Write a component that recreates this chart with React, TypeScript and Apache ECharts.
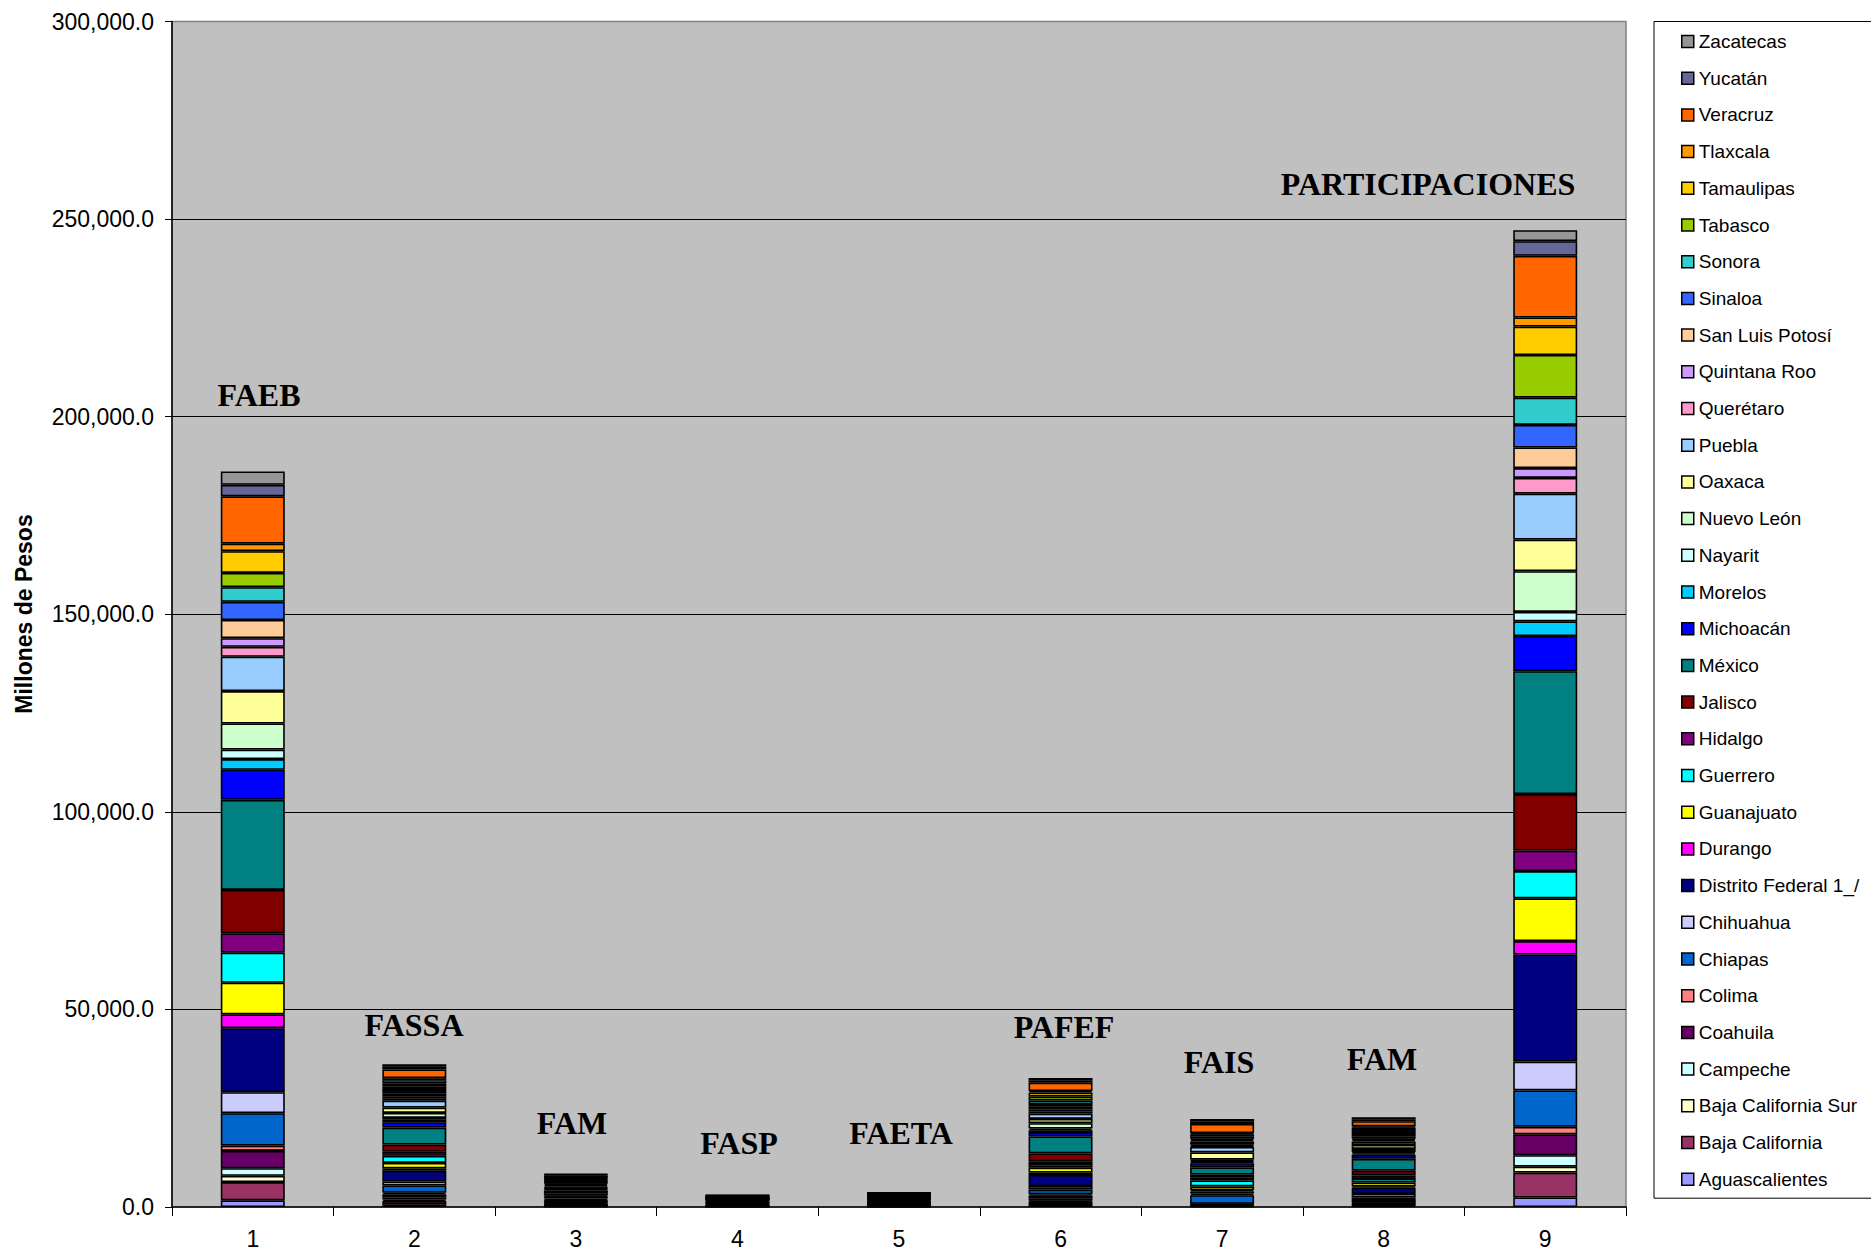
import React, { useEffect, useRef } from "react";
import * as echarts from "echarts";

// Categories (x axis)
const categories = ["1", "2", "3", "4", "5", "6", "7", "8", "9"];
const fundLabels = ["FAEB", "FASSA", "FAM", "FASP", "FAETA", "PAFEF", "FAIS", "FAM", "PARTICIPACIONES"];

// States in stacking order (bottom -> top)
const states = [
  "Aguascalientes", "Baja California", "Baja California Sur", "Campeche", "Coahuila", "Colima",
  "Chiapas", "Chihuahua", "Distrito Federal 1_/", "Durango", "Guanajuato", "Guerrero", "Hidalgo",
  "Jalisco", "México", "Michoacán", "Morelos", "Nayarit", "Nuevo León", "Oaxaca", "Puebla",
  "Querétaro", "Quintana Roo", "San Luis Potosí", "Sinaloa", "Sonora", "Tabasco", "Tamaulipas",
  "Tlaxcala", "Veracruz", "Yucatán", "Zacatecas",
];

const stateColors = [
  "#9999FF", "#993366", "#FFFFCC", "#CCFFFF", "#660066", "#FF8080",
  "#0066CC", "#CCCCFF", "#000080", "#FF00FF", "#FFFF00", "#00FFFF", "#800080",
  "#800000", "#008080", "#0000FF", "#00CCFF", "#CCFFFF", "#CCFFCC", "#FFFF99", "#99CCFF",
  "#FF99CC", "#CC99FF", "#FFCC99", "#3366FF", "#33CCCC", "#99CC00", "#FFCC00",
  "#FF9900", "#FF6600", "#666699", "#969696",
];

// Values per fund, millions of pesos, in the same state order
const FAEB = [1700, 4600, 1600, 1900, 4400, 1350, 8200, 5300, 16200, 3500, 8000, 7600, 4900, 11000, 22800, 7600, 2700, 2400, 6600, 8200, 8700, 2500, 2200, 4600, 4600, 3700, 3600, 5500, 1900, 12000, 2900, 3400];
const FASSA = [600, 900, 400, 500, 800, 400, 1850, 1000, 2700, 600, 1400, 1800, 1000, 1850, 4300, 1350, 600, 500, 1250, 1350, 1750, 600, 500, 800, 800, 800, 800, 900, 500, 2200, 700, 600];
const FAM_A = [100, 200, 50, 100, 150, 50, 300, 200, 450, 150, 400, 450, 300, 600, 750, 350, 150, 150, 350, 350, 400, 150, 150, 250, 200, 200, 200, 250, 150, 450, 200, 150];
const FASP = [60, 110, 50, 50, 80, 50, 100, 100, 300, 70, 100, 100, 70, 120, 280, 100, 70, 50, 100, 80, 100, 60, 60, 70, 80, 90, 70, 100, 50, 150, 70, 60];
const FAETA = [70, 120, 50, 70, 100, 50, 150, 120, 130, 80, 120, 120, 100, 150, 300, 150, 80, 60, 150, 120, 150, 80, 70, 100, 120, 120, 100, 120, 60, 220, 100, 70];
const PAFEF = [500, 800, 300, 500, 800, 300, 1200, 900, 2800, 600, 1250, 900, 700, 2000, 4300, 1100, 500, 400, 1350, 1100, 1350, 500, 500, 700, 700, 900, 1000, 1000, 400, 2100, 600, 600];
const FAIS = [100, 150, 50, 200, 200, 100, 2200, 400, 500, 400, 900, 1500, 700, 800, 1800, 1100, 300, 300, 300, 1800, 1400, 300, 300, 800, 400, 300, 600, 500, 300, 2300, 700, 600];
const FAM_B = [250, 550, 100, 150, 450, 100, 800, 900, 1600, 300, 1000, 900, 900, 1200, 3000, 1000, 400, 300, 800, 1000, 900, 400, 300, 600, 600, 500, 500, 600, 300, 1300, 500, 500];
const PARTICIPACIONES = [2400, 6300, 1500, 2900, 5300, 1900, 9200, 7300, 27100, 3400, 10800, 6900, 5200, 14300, 31100, 8900, 3700, 2400, 10300, 8000, 11600, 4000, 2500, 5200, 5700, 6900, 10800, 7200, 2300, 15600, 3700, 2800];

const funds = [FAEB, FASSA, FAM_A, FASP, FAETA, PAFEF, FAIS, FAM_B, PARTICIPACIONES];

const yMax = 300000;
const yInterval = 50000;

// Layout of fund annotations (pixel centers)
const labelPos = [
  [259, 395], [414, 1025], [572, 1123], [739, 1143], [901, 1133],
  [1064, 1027], [1219, 1062], [1382, 1059], [1428, 184],
];

export default function App() {
  const ref = useRef<HTMLDivElement>(null);
  useEffect(() => {
    const chart = echarts.init(ref.current!, null, { renderer: "svg" });
    const series = states.map((s, i) => ({
      name: s,
      type: "bar",
      stack: "total",
      barWidth: 64,
      data: funds.map((f) => f[i]),
      itemStyle: { color: stateColors[i], borderColor: "#000", borderWidth: 1.6 },
      emphasis: { disabled: true },
    }));
    const graphics: any[] = fundLabels.map((t, i) => ({
      type: "text",
      x: labelPos[i][0],
      y: labelPos[i][1],
      style: {
        text: t,
        fill: "#000",
        font: "bold 32px 'Liberation Serif', 'Times New Roman', serif",
        textAlign: "center",
        textVerticalAlign: "middle",
      },
      z: 100,
    }));
    graphics.push({
      type: "text",
      x: 24,
      y: 614,
      rotation: Math.PI / 2,
      style: {
        text: "Millones de Pesos",
        fill: "#000",
        font: "bold 23px 'Liberation Sans', Arial, sans-serif",
        textAlign: "center",
        textVerticalAlign: "middle",
      },
    });
    chart.setOption({
      animation: false,
      backgroundColor: "#fff",
      textStyle: { fontFamily: "'Liberation Sans', Arial, sans-serif" },
      grid: {
        left: 172,
        right: 245,
        top: 21.5,
        bottom: 47,
        show: true,
        backgroundColor: "#C0C0C0",
        borderColor: "#808080",
        borderWidth: 1.5,
        containLabel: false,
      },
      legend: {
        orient: "vertical",
        left: 1654,
        top: 21.5,
        data: states.slice().reverse(),
        icon: "rect",
        itemWidth: 12,
        itemHeight: 12,
        itemGap: 14.7,
        padding: [9, 14, 8, 27],
        borderColor: "#000",
        borderWidth: 1,
        backgroundColor: "#fff",
        selectedMode: false,
        itemStyle: { borderColor: "#000", borderWidth: 1.5 },
        textStyle: {
          fontSize: 19,
          lineHeight: 22,
          color: "#000",
          fontFamily: "'Liberation Sans', Arial, sans-serif",
        },
      },
      xAxis: {
        type: "category",
        data: categories,
        axisLine: { lineStyle: { color: "#000", width: 1.5 } },
        axisTick: { show: true, length: 9, lineStyle: { color: "#000" } },
        axisLabel: { fontSize: 23, color: "#000", margin: 20 },
      },
      yAxis: {
        type: "value",
        min: 0,
        max: yMax,
        interval: yInterval,
        axisLine: { show: true, lineStyle: { color: "#000", width: 1.5 } },
        axisTick: { show: true, length: 7, lineStyle: { color: "#000" } },
        axisLabel: {
          fontSize: 23,
          color: "#000",
          margin: 18,
          formatter: (v: number) =>
            v.toLocaleString("en-US", { minimumFractionDigits: 1, maximumFractionDigits: 1 }),
        },
        splitLine: { show: true, showMinLine: false, showMaxLine: false, lineStyle: { color: "#000", width: 1 } },
      },
      series,
      graphic: graphics,
    });
    return () => chart.dispose();
  }, []);
  return (
    <div
      ref={ref}
      style={{ position: "fixed", left: 0, top: 0, width: 1871, height: 1254 }}
    />
  );
}
